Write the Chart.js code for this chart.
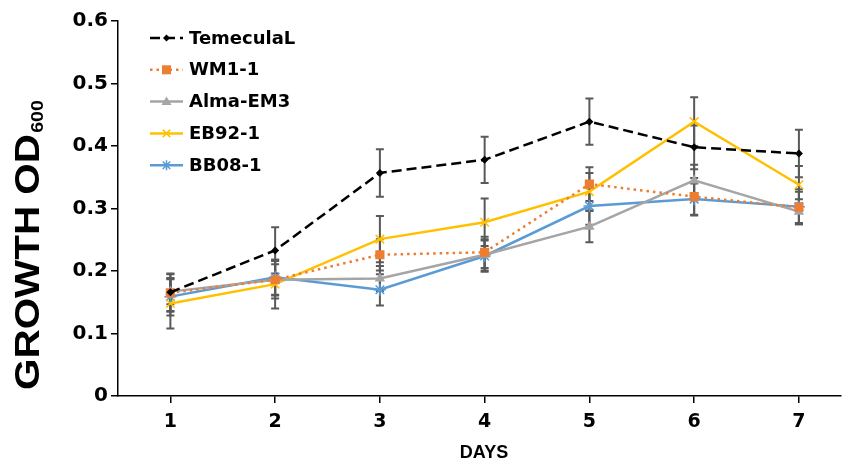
<!DOCTYPE html>
<html>
<head>
<meta charset="utf-8">
<title>Growth OD600</title>
<script src="https://cdn.jsdelivr.net/npm/chart.js@4.4.0/dist/chart.umd.min.js"></script>
<style>
  html, body { margin: 0; padding: 0; background: #fff; }
  #wrap { width: 848px; height: 464px; }
</style>
</head>
<body>
<div id="wrap"><canvas id="chart" width="848" height="464"></canvas></div>
<script>
// Days on the x axis
const days = [1, 2, 3, 4, 5, 6, 7];

// Mean OD600 per strain
const temeculaL = [0.166, 0.233, 0.357, 0.378, 0.439, 0.398, 0.388];
const wm11      = [0.165, 0.186, 0.226, 0.230, 0.339, 0.319, 0.302];
const almaEM3   = [0.167, 0.186, 0.188, 0.226, 0.271, 0.345, 0.295];
const eb921     = [0.148, 0.179, 0.251, 0.278, 0.327, 0.439, 0.338];
const bb081     = [0.159, 0.190, 0.170, 0.224, 0.304, 0.315, 0.303];

// Error bar half-widths
const temeculaLErr = [0.030, 0.037, 0.038, 0.037, 0.037, 0.035, 0.038];
const wm11Err      = [0.030, 0.030, 0.025, 0.025, 0.027, 0.030, 0.025];
const almaEM3Err   = [0.020, 0.025, 0.020, 0.025, 0.025, 0.025, 0.020];
const eb921Err     = [0.040, 0.039, 0.037, 0.038, 0.030, 0.039, 0.030];
const bb081Err     = [0.030, 0.028, 0.025, 0.025, 0.030, 0.025, 0.028];

const yTicks = [0, 0.1, 0.2, 0.3, 0.4, 0.5, 0.6];

const toPoints = (vals) => vals.map((v, i) => ({ x: days[i], y: v }));

const series = [
  { label: 'TemeculaL', data: temeculaL, err: temeculaLErr, color: '#000000', dash: [10, 5], marker: 'rectRot', radius: 4, legendR: 3.5 },
  { label: 'WM1-1', data: wm11, err: wm11Err, color: '#ED7D31', dash: [2.5, 4], marker: 'rect', radius: 6.5, legendR: 4.5 },
  { label: 'Alma-EM3', data: almaEM3, err: almaEM3Err, color: '#A5A5A5', dash: [], marker: 'triangle', radius: 6, legendR: 5 },
  { label: 'EB92-1', data: eb921, err: eb921Err, color: '#FFC000', dash: [], marker: 'crossRot', radius: 6, legendR: 5 },
  { label: 'BB08-1', data: bb081, err: bb081Err, color: '#5B9BD5', dash: [], marker: 'star', radius: 6, legendR: 5 },
];

// error bars, drawn under the lines
const errorBars = {
  id: 'errorBars',
  beforeDatasetsDraw(chart) {
    const ctx = chart.ctx;
    const y = chart.scales.y;
    ctx.save();
    ctx.strokeStyle = '#595959';
    ctx.lineWidth = 2;
    series.forEach((s, i) => {
      const meta = chart.getDatasetMeta(i);
      meta.data.forEach((pt, j) => {
        const top = y.getPixelForValue(s.data[j] + s.err[j]);
        const bot = y.getPixelForValue(s.data[j] - s.err[j]);
        ctx.beginPath();
        ctx.moveTo(pt.x, top); ctx.lineTo(pt.x, bot);
        ctx.moveTo(pt.x - 4, top); ctx.lineTo(pt.x + 4, top);
        ctx.moveTo(pt.x - 4, bot); ctx.lineTo(pt.x + 4, bot);
        ctx.stroke();
      });
    });
    ctx.restore();
  }
};

function drawMarker(ctx, type, x, y, r, color) {
  ctx.save();
  ctx.fillStyle = color;
  ctx.strokeStyle = color;
  ctx.lineWidth = 1.5;
  ctx.beginPath();
  if (type === 'rectRot') {
    ctx.moveTo(x, y - r); ctx.lineTo(x + r, y); ctx.lineTo(x, y + r); ctx.lineTo(x - r, y); ctx.closePath(); ctx.fill();
  } else if (type === 'rect') {
    ctx.rect(x - r, y - r, 2 * r, 2 * r); ctx.fill();
  } else if (type === 'triangle') {
    ctx.moveTo(x, y - r); ctx.lineTo(x + r, y + r * 0.7); ctx.lineTo(x - r, y + r * 0.7); ctx.closePath(); ctx.fill();
  } else if (type === 'crossRot') {
    const d = r * 0.75;
    ctx.moveTo(x - d, y - d); ctx.lineTo(x + d, y + d); ctx.moveTo(x + d, y - d); ctx.lineTo(x - d, y + d); ctx.stroke();
  } else if (type === 'star') {
    const d = r * 0.75;
    ctx.moveTo(x - d, y - d); ctx.lineTo(x + d, y + d); ctx.moveTo(x + d, y - d); ctx.lineTo(x - d, y + d);
    ctx.moveTo(x, y - r); ctx.lineTo(x, y + r); ctx.stroke();
  }
  ctx.restore();
}

// legend inside the plot, top left
const insideLegend = {
  id: 'insideLegend',
  afterDraw(chart) {
    const ctx = chart.ctx;
    ctx.save();
    series.forEach((s, i) => {
      const y = 38 + i * 31.8;
      ctx.strokeStyle = s.color;
      ctx.lineWidth = 2.5;
      ctx.setLineDash(s.dash);
      ctx.beginPath();
      ctx.moveTo(150, y); ctx.lineTo(183, y);
      ctx.stroke();
      ctx.setLineDash([]);
      drawMarker(ctx, s.marker, 166.5, y, s.legendR, s.color);
      ctx.fillStyle = '#000';
      ctx.font = 'bold 18px "DejaVu Sans"';
      ctx.textBaseline = 'middle';
      ctx.fillText(s.label, 189, y + 1);
    });
    ctx.restore();
  }
};

// axis titles, with the subscript on OD600
const axisTitles = {
  id: 'axisTitles',
  afterDraw(chart) {
    const ctx = chart.ctx;
    ctx.save();
    ctx.fillStyle = '#000';
    ctx.font = 'bold 18px "Liberation Sans"';
    ctx.textAlign = 'center';
    ctx.textBaseline = 'alphabetic';
    ctx.fillText('DAYS', 484, 458);

    ctx.translate(39, 390);
    ctx.rotate(-Math.PI / 2);
    ctx.textAlign = 'left';
    ctx.font = 'bold 35px "Liberation Sans"';
    const main = 'GROWTH OD';
    const w = ctx.measureText(main).width;
    ctx.scale(256 / w, 1);
    ctx.fillText(main, 0, 0);
    ctx.font = 'bold 17px "Liberation Sans"';
    ctx.fillText('600', w + 1, 4);
    ctx.restore();
  }
};

new Chart(document.getElementById('chart'), {
  type: 'line',
  data: {
    datasets: series.map((s) => ({
      label: s.label,
      data: toPoints(s.data),
      borderColor: s.color,
      backgroundColor: s.color,
      borderWidth: 2.5,
      borderDash: s.dash,
      pointStyle: s.marker,
      pointRadius: s.radius,
      pointBorderWidth: s.marker === 'crossRot' || s.marker === 'star' ? 1.5 : 0,
      tension: 0,
    })),
  },
  options: {
    responsive: false,
    animation: false,
    layout: { padding: { top: 21, right: 0, left: 0, bottom: 0 } },
    plugins: {
      legend: { display: false },
      tooltip: { enabled: false },
    },
    scales: {
      x: {
        type: 'linear',
        min: 0.5,
        max: 7.397,
        afterBuildTicks: (scale) => { scale.ticks = days.map((d) => ({ value: d })); },
        afterFit: (scale) => { scale.height = 68; },
        border: { color: '#000', width: 1.5 },
        grid: { drawOnChartArea: false, color: '#000', tickLength: 7, lineWidth: 1.5 },
        ticks: { color: '#000', padding: 8, font: { family: 'DejaVu Sans', weight: 'bold', size: 19 } },
      },
      y: {
        min: 0,
        max: 0.6,
        afterBuildTicks: (scale) => { scale.ticks = yTicks.map((v) => ({ value: v })); },
        afterFit: (scale) => { scale.width = 118; },
        border: { color: '#000', width: 1.5 },
        grid: { drawOnChartArea: false, color: '#000', tickLength: 7, lineWidth: 1.5 },
        ticks: { color: '#000', padding: 3, font: { family: 'DejaVu Sans', weight: 'bold', size: 20 } },
      },
    },
  },
  plugins: [errorBars, insideLegend, axisTitles],
});
</script>
</body>
</html>
